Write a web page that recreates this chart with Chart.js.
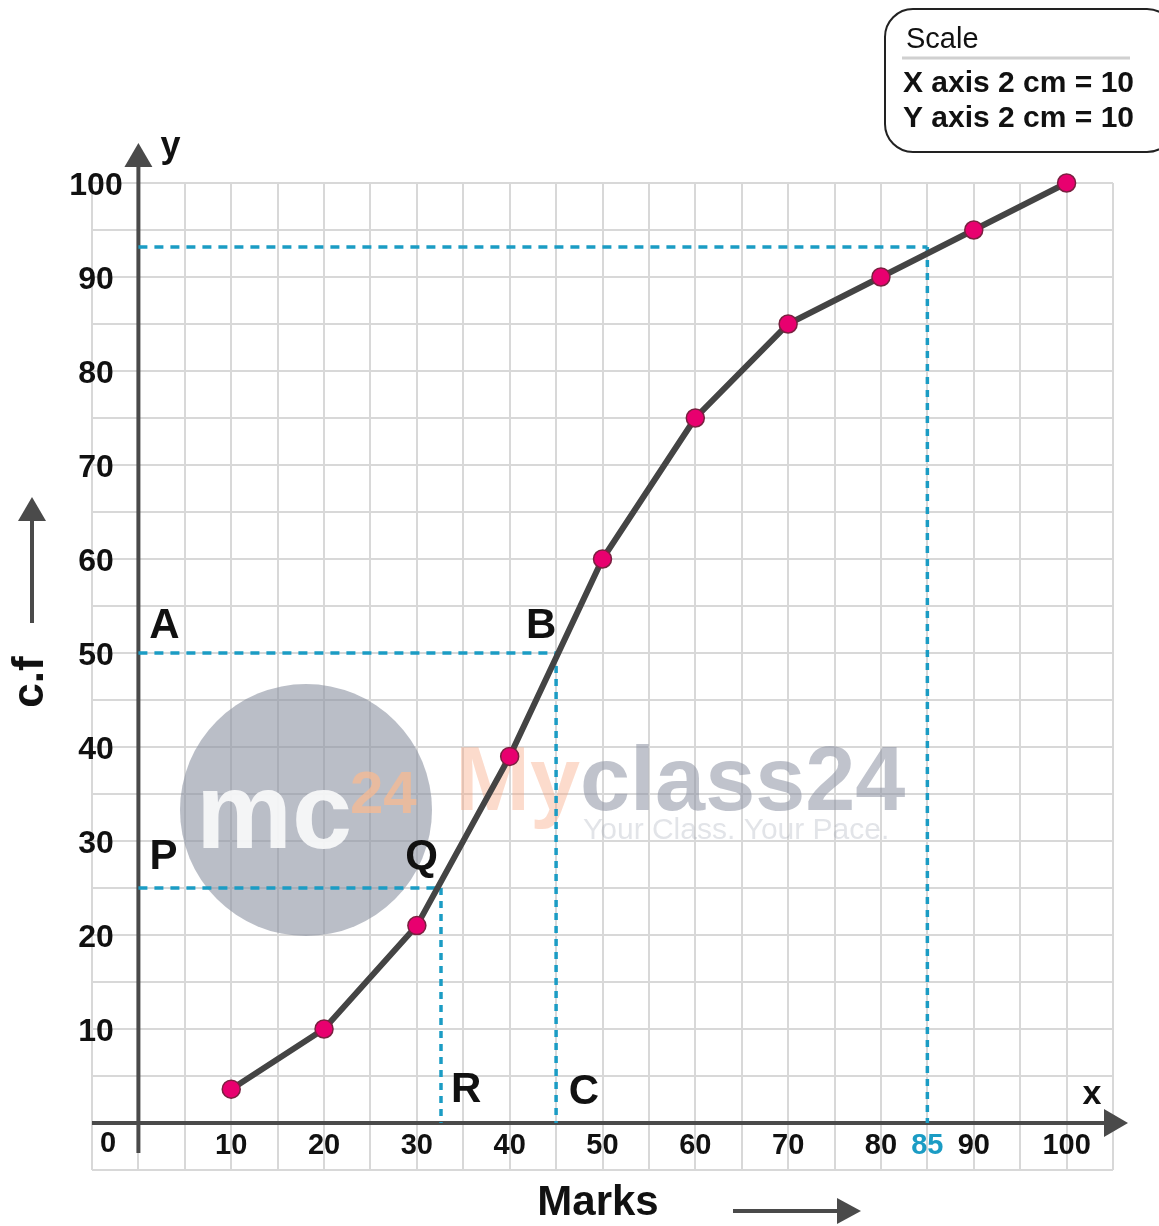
<!DOCTYPE html>
<html>
<head>
<meta charset="utf-8">
<script src="https://cdn.jsdelivr.net/npm/chart.js@4.4.1/dist/chart.umd.min.js"></script>
<style>
  body { margin: 0; background: #fff; }
  #wrap { width: 1159px; height: 1226px; position: relative; }
</style>
</head>
<body>
<div id="wrap"><canvas id="ogiva"></canvas></div>
<script>
// datos
const marks = [10, 20, 30, 40, 50, 60, 70, 80, 90, 100];
const cumFreq = [3.6, 10, 21, 39, 60, 75, 85, 90, 95, 100];
const xTicks = [10, 20, 30, 40, 50, 60, 70, 80, 90, 100];
const yTicks = [10, 20, 30, 40, 50, 60, 70, 80, 90, 100];
// lineas guia: y -> x (A-B-C, P-Q-R, 85)
const guideY = [50, 25, 93.2];
const guideX = [45, 32.6, 85];
const highlightTick = 85;
const pointLabels = ["A", "B", "P", "Q", "R", "C"];
const pointLabelX = [2.8, 43.4, 2.7, 30.5, 35.3, 48];
const pointLabelY = [52.8, 52.8, 28.2, 28.2, 3.5, 3.2];

const AXIS = "#4a4a4a";
const BLUE = "#1b9cc4";
const FONT = "'Liberation Sans', Arial, sans-serif";

Chart.defaults.font.family = FONT;

// datasets de lineas guia (horizontal y vertical con distinto trazo)
const guideSets = [];
guideY.forEach((gy, i) => {
  const gx = guideX[i];
  guideSets.push({
    data: [{ x: 0, y: gy }, { x: gx, y: gy }],
    borderColor: BLUE, borderWidth: 3.5, borderDash: [9, 7],
    pointRadius: 0, order: 2, tension: 0
  });
  guideSets.push({
    data: [{ x: gx, y: gy }, { x: gx, y: 0 }],
    borderColor: BLUE, borderWidth: 3.5, borderDash: [7, 6],
    pointRadius: 0, order: 2, tension: 0
  });
});

function arrowHead(ctx, tipX, tipY, dir, len, half) {
  ctx.beginPath();
  if (dir === "up") {
    ctx.moveTo(tipX, tipY);
    ctx.lineTo(tipX - half, tipY + len);
    ctx.lineTo(tipX + half, tipY + len);
  } else {
    ctx.moveTo(tipX, tipY);
    ctx.lineTo(tipX - len, tipY - half);
    ctx.lineTo(tipX - len, tipY + half);
  }
  ctx.closePath();
  ctx.fill();
}

const watermark = {
  id: "watermark",
  beforeDatasetsDraw(chart) {
    const ctx = chart.ctx;
    ctx.save();
    ctx.fillStyle = "rgba(140,146,162,0.6)";
    ctx.beginPath();
    ctx.arc(306, 810, 126, 0, Math.PI * 2);
    ctx.fill();
    ctx.textBaseline = "alphabetic";
    ctx.textAlign = "left";
    ctx.fillStyle = "rgba(255,255,255,0.85)";
    ctx.font = "bold 108px " + FONT;
    ctx.fillText("mc", 196, 848);
    ctx.fillStyle = "rgba(247,186,146,0.75)";
    ctx.font = "bold 60px " + FONT;
    ctx.fillText("24", 350, 813);
    ctx.font = "bold 90px " + FONT;
    ctx.fillStyle = "rgba(246,160,120,0.38)";
    ctx.fillText("My", 455, 810);
    const w = ctx.measureText("My").width;
    ctx.fillStyle = "rgba(140,146,162,0.55)";
    ctx.fillText("class24", 455 + w, 810);
    ctx.font = "30px " + FONT;
    ctx.fillStyle = "rgba(140,146,162,0.25)";
    ctx.fillText("Your Class. Your Pace.", 583, 839);
    ctx.restore();
  }
};

const decor = {
  id: "decor",
  beforeDatasetsDraw(chart) {
    const { ctx, chartArea, scales } = chart;
    const x0 = scales.x.getPixelForValue(0);
    const y0 = scales.y.getPixelForValue(0);
    ctx.save();
    ctx.strokeStyle = AXIS;
    ctx.fillStyle = AXIS;
    ctx.lineWidth = 4;
    // eje y
    ctx.beginPath();
    ctx.moveTo(x0, scales.y.getPixelForValue(-3.2));
    ctx.lineTo(x0, chartArea.top - 17);
    ctx.stroke();
    arrowHead(ctx, x0, chartArea.top - 40, "up", 24, 14);
    // eje x
    ctx.beginPath();
    ctx.moveTo(chartArea.left, y0);
    ctx.lineTo(chartArea.right - 8, y0);
    ctx.stroke();
    arrowHead(ctx, chartArea.right + 15, y0, "right", 24, 14);
    ctx.restore();
  },
  afterDraw(chart) {
    const { ctx, chartArea, scales } = chart;
    const x0 = scales.x.getPixelForValue(0);
    const y0 = scales.y.getPixelForValue(0);
    ctx.save();
    ctx.textAlign = "center";
    ctx.textBaseline = "middle";
    ctx.fillStyle = "#111";
    ctx.font = "bold 32px " + FONT;
    yTicks.forEach((v) => {
      ctx.fillText(String(v), 96, scales.y.getPixelForValue(v) + 3);
    });
    ctx.font = "bold 29px " + FONT;
    xTicks.forEach((v) => {
      ctx.fillText(String(v), scales.x.getPixelForValue(v), y0 + 23);
    });
    ctx.fillText("0", 108, y0 + 21);
    ctx.fillStyle = BLUE;
    ctx.fillText(String(highlightTick), scales.x.getPixelForValue(highlightTick), y0 + 23);

    // letras de puntos
    ctx.fillStyle = "#111";
    ctx.font = "bold 42px " + FONT;
    pointLabels.forEach((t, i) => {
      ctx.fillText(t, scales.x.getPixelForValue(pointLabelX[i]), scales.y.getPixelForValue(pointLabelY[i]));
    });

    // x, y
    ctx.font = "bold 36px " + FONT;
    ctx.fillText("y", x0 + 32, chartArea.top - 36);
    ctx.font = "bold 34px " + FONT;
    ctx.fillText("x", 1092, y0 - 28);

    // titulo eje x
    ctx.font = "bold 42px " + FONT;
    ctx.fillText("Marks", 598, 1203);
    ctx.strokeStyle = AXIS;
    ctx.fillStyle = AXIS;
    ctx.lineWidth = 4;
    ctx.beginPath();
    ctx.moveTo(733, 1211);
    ctx.lineTo(840, 1211);
    ctx.stroke();
    arrowHead(ctx, 861, 1211, "right", 24, 13);

    // titulo eje y
    ctx.beginPath();
    ctx.moveTo(32, 623);
    ctx.lineTo(32, 515);
    ctx.stroke();
    arrowHead(ctx, 32, 497, "up", 24, 14);
    ctx.save();
    ctx.translate(31, 682);
    ctx.rotate(-Math.PI / 2);
    ctx.fillStyle = "#111";
    ctx.font = "bold 44px " + FONT;
    ctx.fillText("c.f", 0, 0);
    ctx.restore();

    // caja de escala
    ctx.strokeStyle = "#222";
    ctx.lineWidth = 2;
    ctx.beginPath();
    ctx.roundRect(885, 9, 290, 143, 28);
    ctx.stroke();
    ctx.strokeStyle = "#d0d0d0";
    ctx.lineWidth = 3;
    ctx.beginPath();
    ctx.moveTo(902, 58);
    ctx.lineTo(1130, 58);
    ctx.stroke();
    ctx.textAlign = "left";
    ctx.textBaseline = "alphabetic";
    ctx.fillStyle = "#111";
    ctx.font = "29px " + FONT;
    ctx.fillText("Scale", 906, 48);
    ctx.font = "bold 30px " + FONT;
    ctx.fillText("X axis 2 cm = 10", 903, 92);
    ctx.fillText("Y axis 2 cm = 10", 903, 127);
    ctx.restore();
  }
};

const ctx = document.getElementById("ogiva").getContext("2d");
new Chart(ctx, {
  type: "line",
  data: {
    datasets: [
      {
        label: "c.f",
        data: marks.map((m, i) => ({ x: m, y: cumFreq[i] })),
        borderColor: "#444",
        borderWidth: 6,
        tension: 0,
        pointRadius: 9,
        pointBackgroundColor: "#e8006f",
        pointBorderColor: "#7a2040",
        pointBorderWidth: 1.5,
        clip: false,
        order: 0
      },
      ...guideSets
    ]
  },
  options: {
    responsive: true,
    maintainAspectRatio: false,
    animation: false,
    layout: { padding: { left: 92, right: 46, top: 183, bottom: 56 } },
    plugins: {
      legend: { display: false },
      tooltip: { enabled: false }
    },
    scales: {
      x: {
        type: "linear",
        min: -5,
        max: 105,
        ticks: { display: false, stepSize: 5 },
        grid: { color: "#d8d8d8", lineWidth: 2, drawTicks: false },
        border: { display: false }
      },
      y: {
        type: "linear",
        min: -5,
        max: 100,
        ticks: { display: false, stepSize: 5 },
        grid: { color: "#d8d8d8", lineWidth: 2, drawTicks: false },
        border: { display: false }
      }
    }
  },
  plugins: [watermark, decor]
});
</script>
</body>
</html>
